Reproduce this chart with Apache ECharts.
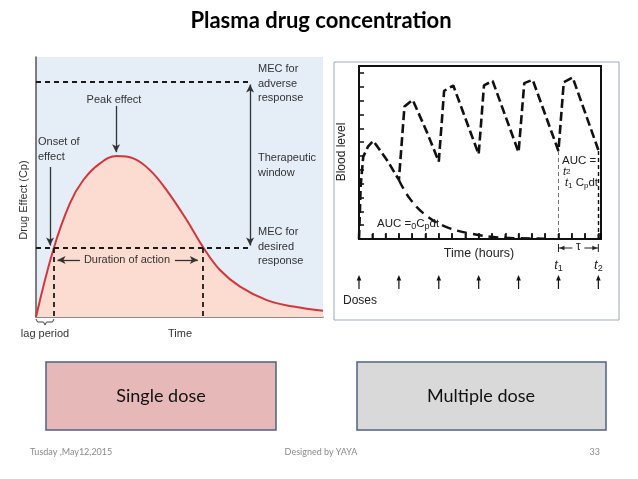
<!DOCTYPE html>
<html><head><meta charset="utf-8">
<script src="https://cdn.jsdelivr.net/npm/echarts/dist/echarts.min.js"></script>
<style>html,body{margin:0;padding:0;background:#fff}#c{width:638px;height:479px}</style>
</head><body><div id="c"></div>
<script>
// ---------- Single dose (left panel) ----------
const singleTime   = [0, 6.0, 11.8, 16.5, 22.3, 28.1, 33.9, 39.7, 45.5, 52.5, 58.3, 64.1, 71.1, 80.4, 89.7, 100];
const singleEffect = [0, 25.8, 43.7, 52.7, 59.1, 61.9, 61.0, 56.5, 48.8, 37.3, 26.7, 18.1, 11.7, 6.5, 4.0, 2.4];
const mecAdverse = 90.4;
const mecDesired = 26.5;
const onsetTime = 6.3;
const offsetTime = 58.2;
const peakTime = 27.9;
const peakEffect = 61.9;
const windowX = 74.6;

// ---------- Multiple dose (right panel) ----------
const multiTime  = [0, 0.13, 0.32, 0.69, 1.07, 2.18, 3, 3.42, 4.04, 5.09, 6, 6.4, 7.09, 9, 9.4, 10.05, 12, 12.43, 13.06, 15, 15.4, 16.07, 18];
const multiLevel = [0, 3.9, 5.95, 6.7, 7.09, 5.6, 4.27, 9.57, 10.05, 7.76, 5.59, 10.7, 11.09, 6.12, 11.1, 11.42, 6.27, 11.26, 11.5, 6.36, 11.33, 11.67, 6.43];
const decayTime  = [3, 3.8, 5.0, 6.5, 8.3, 10.7, 14];
const decayLevel = [4.27, 2.94, 1.74, 0.89, 0.41, 0.1, 0.03];
const doseTimes = [0, 3, 6, 9, 12, 15, 18];
const hourTicks = [0, 1, 2, 3, 4, 5, 6, 7, 8, 9, 10, 11, 12, 13, 14, 15, 16, 17, 18];
const t1 = 15, t2 = 18;
const levelT1 = 6.36, levelT2 = 6.43;

const zip = (a, b) => a.map((v, i) => [v, b[i]]);
const chart = echarts.init(document.getElementById('c'), null, {renderer: 'canvas'});

const dash = {type: [5, 4], color: '#1a1a1a', width: 1.8};
const base = {
  animation: false,
  backgroundColor: '#ffffff',
  grid: [
    {left: 36, top: 57, width: 287, height: 260, show: true, backgroundColor: '#e5edf7', borderWidth: 0, outerBoundsMode: 'none', containLabel: false},
    {left: 359, top: 66, width: 242, height: 173, show: true, backgroundColor: 'transparent', borderColor: '#111', borderWidth: 2, outerBoundsMode: 'none', containLabel: false}
  ],
  xAxis: [
    {type: 'value', gridIndex: 0, min: 0, max: 100, axisLine: {show: true, onZero: false, lineStyle: {color: '#666', width: 1.5}}, axisTick: {show: false}, axisLabel: {show: false}, splitLine: {show: false}},
    {type: 'value', gridIndex: 1, min: 0, max: 18.2, interval: 1, axisLine: {show: true, onZero: false, lineStyle: {color: '#111', width: 2}}, axisTick: {show: true, inside: true, length: 6, lineStyle: {color: '#000', width: 1.5}}, axisLabel: {show: false}, splitLine: {show: false}}
  ],
  yAxis: [
    {type: 'value', gridIndex: 0, min: 0, max: 100, axisLine: {show: true, onZero: false, lineStyle: {color: '#555', width: 1.5}}, axisTick: {show: false}, axisLabel: {show: false}, splitLine: {show: false}},
    {type: 'value', gridIndex: 1, min: 0, max: 12.5, interval: 1, axisLine: {show: true, onZero: false, lineStyle: {color: '#111', width: 2}}, axisTick: {show: true, inside: true, length: 5, lineStyle: {color: '#111', width: 1.5}}, axisLabel: {show: false}, splitLine: {show: false}}
  ],
  series: [
    {
      type: 'line', xAxisIndex: 0, yAxisIndex: 0, data: zip(singleTime, singleEffect),
      smooth: 0.4, symbol: 'none',
      lineStyle: {color: '#d2353c', width: 2},
      areaStyle: {color: '#fcdcd1', opacity: 1}
    },
    {
      type: 'line', xAxisIndex: 0, yAxisIndex: 0, data: [], symbol: 'none',
      markLine: {
        silent: true, animation: false, label: {show: false}, symbol: 'none',
        data: [
          [{coord: [0, mecAdverse], lineStyle: dash}, {coord: [windowX, mecAdverse]}],
          [{coord: [0, mecDesired], lineStyle: dash}, {coord: [windowX, mecDesired]}],
          [{coord: [onsetTime, mecDesired], lineStyle: dash}, {coord: [onsetTime, 0]}],
          [{coord: [offsetTime, mecDesired], lineStyle: dash}, {coord: [offsetTime, 0]}],
          [{coord: [windowX, mecDesired + 1], symbol: 'arrow', symbolSize: [6, 8], lineStyle: {type: 'solid', color: '#333', width: 1.3}}, {coord: [windowX, mecAdverse - 1], symbol: 'arrow', symbolSize: [6, 8]}],
          [{coord: [peakTime, 81.2], symbol: 'none', lineStyle: {type: 'solid', color: '#333', width: 1.3}}, {coord: [peakTime, peakEffect + 1.5], symbol: 'arrow', symbolSize: [6, 8]}],
          [{coord: [4.9, 57.7], symbol: 'none', lineStyle: {type: 'solid', color: '#333', width: 1.3}}, {coord: [4.9, mecDesired + 1], symbol: 'arrow', symbolSize: [6, 8]}],
          [{coord: [15.3, 21.9], symbol: 'none', lineStyle: {type: 'solid', color: '#333', width: 1.3}}, {coord: [onsetTime + 1.2, 21.9], symbol: 'arrow', symbolSize: [6, 8]}],
          [{coord: [48.4, 21.9], symbol: 'none', lineStyle: {type: 'solid', color: '#333', width: 1.3}}, {coord: [offsetTime - 1.8, 21.9], symbol: 'arrow', symbolSize: [6, 8]}]
        ]
      }
    },
    {
      type: 'line', xAxisIndex: 1, yAxisIndex: 1, data: zip(decayTime, decayLevel),
      smooth: 0.4, symbol: 'none', lineStyle: {color: '#111', width: 2.4, type: [10, 6]}, z: 3
    },
    {
      type: 'line', xAxisIndex: 1, yAxisIndex: 1, data: zip(multiTime, multiLevel),
      symbol: 'none', lineStyle: {color: '#111', width: 2.6, type: [9, 4]}, z: 4,
      markLine: {
        silent: true, animation: false, label: {show: false}, symbol: 'none',
        data: [
          [{coord: [t1, 0], lineStyle: {type: [4, 3], color: '#777', width: 1}}, {coord: [t1, levelT1]}],
          [{coord: [t2, 0], lineStyle: {type: [4, 3], color: '#111', width: 1.4}}, {coord: [t2, levelT2]}]
        ]
      }
    }
  ]
};
chart.setOption(base);

const P1 = (x, y) => chart.convertToPixel({gridIndex: 1}, [x, y]);
const F = '"Liberation Sans", Arial, sans-serif';
const txt = (text, x, y, size, opts) => Object.assign({
  type: 'text', x: x, y: y, z: 50,
  style: Object.assign({text: text, font: size + 'px ' + F, fill: '#333', align: 'left', verticalAlign: 'middle'}, (opts && opts.style) || {})
}, (opts && opts.el) || {});

const g = [];
// right panel outer frame
g.push({type: 'rect', z: -1, shape: {x: 334, y: 62, width: 285, height: 258}, style: {fill: 'none', stroke: '#9aabbd', lineWidth: 1}});
// title
g.push({type: 'text', x: 321, y: 21, z: 50, style: {text: 'Plasma drug concentration', font: 'bold 22px Lato, "Liberation Sans", sans-serif', fill: '#000', align: 'center', verticalAlign: 'middle'}});

// hour ticks on the bottom axis of the right panel (drawn through the axis scale)
hourTicks.forEach(h => {
  const p = P1(h, 0);
  g.push({type: 'line', z: 45, shape: {x1: p[0], y1: p[1], x2: p[0], y2: p[1] - 5}, style: {stroke: '#111', lineWidth: 1.5}});
});

// left panel texts
g.push(txt('Drug Effect (Cp)', 24, 200, 11, {style: {align: 'center'}, el: {rotation: Math.PI / 2}}));
['MEC for', 'adverse', 'response'].forEach((s, i) => g.push(txt(s, 258, 69 + i * 14.5, 11)));
['Therapeutic', 'window'].forEach((s, i) => g.push(txt(s, 258, 158 + i * 15, 11)));
['MEC for', 'desired', 'response'].forEach((s, i) => g.push(txt(s, 258, 232 + i * 14.5, 11)));
g.push(txt('Peak effect', 114, 100, 11, {style: {align: 'center'}}));
g.push(txt('Onset of', 38, 142, 11));
g.push(txt('effect', 38, 157, 11));
g.push(txt('Duration of action', 127, 260, 11, {style: {align: 'center'}}));
g.push(txt('lag period', 45, 334, 11, {style: {align: 'center'}}));
g.push(txt('Time', 180, 334, 11, {style: {align: 'center'}}));
g.push({type: 'polyline', z: 50, shape: {points: [[36, 319], [37.5, 322], [43.5, 322], [45, 325], [46.5, 322], [52.5, 322], [54, 319]]}, style: {stroke: '#444', lineWidth: 1, fill: 'none'}});

// right panel texts
g.push(txt('Blood level', 342, 152, 12, {style: {align: 'center', fill: '#222'}, el: {rotation: Math.PI / 2}}));
g.push(txt('Time (hours)', 479, 254, 12.5, {style: {align: 'center', fill: '#222'}}));
g.push(txt('Doses', 343, 301, 12, {style: {fill: '#222'}}));
g.push({type: 'text', x: 377, y: 224, z: 50, style: {
  text: '{n|AUC =}{s|0}{n|C}{s|p}{n|dt}', verticalAlign: 'middle', align: 'left',
  rich: {n: {font: '11.5px ' + F, fill: '#222', lineHeight: 14}, s: {font: '9px ' + F, fill: '#222', lineHeight: 14, verticalAlign: 'bottom', padding: [5, 0, 0, 0]}}
}});
g.push(txt('AUC =', 562, 161, 11.5, {style: {fill: '#222'}}));
g.push({type: 'text', x: 563, y: 172, z: 50, style: {text: '{i|t}{s|2}', verticalAlign: 'middle', align: 'left',
  rich: {i: {font: 'italic 11px ' + F, fill: '#222'}, s: {font: '8px ' + F, fill: '#222'}}}});
g.push({type: 'text', x: 565, y: 183, z: 50, style: {
  text: '{i|t}{s|1}{n| C}{s|p}{n|dt}', verticalAlign: 'middle', align: 'left',
  rich: {i: {font: 'italic 11px ' + F, fill: '#222', lineHeight: 14}, n: {font: '11.5px ' + F, fill: '#222', lineHeight: 14}, s: {font: '8px ' + F, fill: '#222', lineHeight: 14, verticalAlign: 'bottom', padding: [5, 0, 0, 0]}}
}});

// dose arrows
doseTimes.forEach(d => {
  const px = P1(d, 0)[0];
  g.push({type: 'line', z: 50, shape: {x1: px, y1: 289, x2: px, y2: 279}, style: {stroke: '#111', lineWidth: 1.2}});
  g.push({type: 'polygon', z: 50, shape: {points: [[px - 2.3, 280.5], [px + 2.3, 280.5], [px, 275]]}, style: {fill: '#111'}});
});

// tau interval
const a = P1(t1, 0)[0], b = P1(t2, 0)[0], mid = (a + b) / 2, ty = 248;
g.push({type: 'line', z: 50, shape: {x1: a, y1: ty, x2: mid - 6, y2: ty}, style: {stroke: '#222', lineWidth: 1}});
g.push({type: 'line', z: 50, shape: {x1: mid + 6, y1: ty, x2: b, y2: ty}, style: {stroke: '#222', lineWidth: 1}});
g.push({type: 'polygon', z: 50, shape: {points: [[a + 1, ty], [a + 6, ty - 2.2], [a + 6, ty + 2.2]]}, style: {fill: '#222'}});
g.push({type: 'polygon', z: 50, shape: {points: [[b - 1, ty], [b - 6, ty - 2.2], [b - 6, ty + 2.2]]}, style: {fill: '#222'}});
g.push({type: 'line', z: 50, shape: {x1: a, y1: ty - 4, x2: a, y2: ty + 4}, style: {stroke: '#222', lineWidth: 1}});
g.push({type: 'line', z: 50, shape: {x1: b, y1: ty - 4, x2: b, y2: ty + 4}, style: {stroke: '#222', lineWidth: 1}});
g.push(txt('τ', mid, ty - 1, 12, {style: {align: 'center', fill: '#222'}}));
[[a, '1'], [b, '2']].forEach(([px, n]) => g.push({type: 'text', x: px, y: 265, z: 50, style: {
  text: '{i|t}{s|' + n + '}', align: 'center', verticalAlign: 'middle',
  rich: {i: {font: 'italic 13px ' + F, fill: '#222', lineHeight: 16}, s: {font: '9px ' + F, fill: '#222', lineHeight: 16, verticalAlign: 'bottom', padding: [6, 0, 0, 0]}}
}}));

// bottom boxes
g.push({type: 'rect', z: 40, shape: {x: 46, y: 362, width: 230, height: 68}, style: {fill: '#e6b8b7', stroke: '#4f6182', lineWidth: 1.5}});
g.push({type: 'rect', z: 40, shape: {x: 357, y: 362, width: 249, height: 68}, style: {fill: '#d9d9d9', stroke: '#4f6182', lineWidth: 1.5}});
g.push({type: 'text', x: 161, y: 396, z: 50, style: {text: 'Single dose', font: '18px Lato, sans-serif', fill: '#111', align: 'center', verticalAlign: 'middle'}});
g.push({type: 'text', x: 481, y: 396, z: 50, style: {text: 'Multiple dose', font: '18px Lato, sans-serif', fill: '#111', align: 'center', verticalAlign: 'middle'}});

// footer
g.push({type: 'text', x: 30, y: 452, z: 50, style: {text: 'Tusday ,May12,2015', font: '9px Lato, sans-serif', fill: '#8a8a8a', align: 'left', verticalAlign: 'middle'}});
g.push({type: 'text', x: 321, y: 452, z: 50, style: {text: 'Designed by YAYA', font: '9px Lato, sans-serif', fill: '#8a8a8a', align: 'center', verticalAlign: 'middle'}});
g.push({type: 'text', x: 600, y: 452, z: 50, style: {text: '33', font: '9px Lato, sans-serif', fill: '#8a8a8a', align: 'right', verticalAlign: 'middle'}});

chart.setOption({graphic: {elements: g}});
</script>
</body></html>
